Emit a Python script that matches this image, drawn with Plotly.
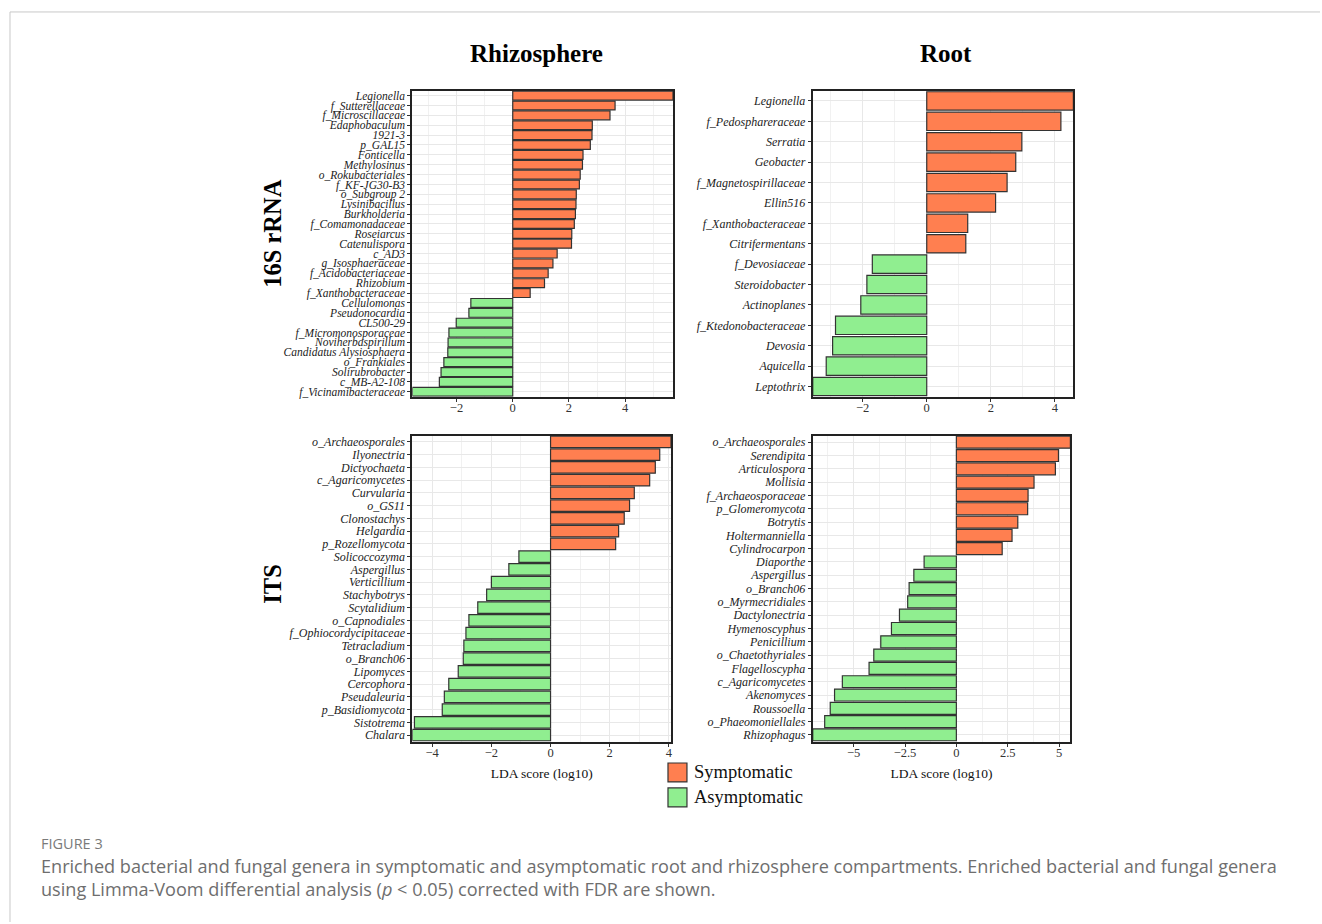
import plotly.graph_objects as go

# ---- LDA scores (log10) per compartment / marker ----
rhizo_16s_taxa = ["Legionella", "f_Sutterellaceae", "f_Microscillaceae", "Edaphobaculum", "1921-3",
                  "p_GAL15", "Fonticella", "Methylosinus", "o_Rokubacteriales", "f_KF-JG30-B3",
                  "o_Subgroup 2", "Lysinibacillus", "Burkholderia", "f_Comamonadaceae", "Roseiarcus",
                  "Catenulispora", "c_AD3", "g_Isosphaeraceae", "f_Acidobacteriaceae", "Rhizobium",
                  "f_Xanthobacteraceae", "Cellulomonas", "Pseudonocardia", "CL500-29",
                  "f_Micromonosporaceae", "Noviherbaspirillum", "Candidatus Alysiosphaera",
                  "o_Frankiales", "Solirubrobacter", "c_MB-A2-108", "f_Vicinamibacteraceae"]
rhizo_16s_lda = [5.70, 3.64, 3.46, 2.83, 2.82, 2.76, 2.50, 2.48, 2.40, 2.37,
                 2.26, 2.25, 2.23, 2.19, 2.10, 2.09, 1.58, 1.43, 1.26, 1.13,
                 0.62, -1.49, -1.56, -2.01, -2.27, -2.30, -2.31, -2.45, -2.55, -2.61, -3.57]

root_16s_taxa = ["Legionella", "f_Pedosphareraceae", "Serratia", "Geobacter", "f_Magnetospirillaceae",
                 "Ellin516", "f_Xanthobacteraceae", "Citrifermentans", "f_Devosiaceae", "Steroidobacter",
                 "Actinoplanes", "f_Ktedonobacteraceae", "Devosia", "Aquicella", "Leptothrix"]
root_16s_lda = [4.58, 4.19, 2.97, 2.78, 2.51, 2.15, 1.28, 1.22,
                -1.70, -1.87, -2.06, -2.85, -2.94, -3.14, -3.56]

rhizo_its_taxa = ["o_Archaeosporales", "Ilyonectria", "Dictyochaeta", "c_Agaricomycetes", "Curvularia",
                  "o_GS11", "Clonostachys", "Helgardia", "p_Rozellomycota", "Solicoccozyma",
                  "Aspergillus", "Verticillium", "Stachybotrys", "Scytalidium", "o_Capnodiales",
                  "f_Ophiocordycipitaceae", "Tetracladium", "o_Branch06", "Lipomyces", "Cercophora",
                  "Pseudaleuria", "p_Basidiomycota", "Sistotrema", "Chalara"]
rhizo_its_lda = [4.07, 3.69, 3.54, 3.35, 2.83, 2.67, 2.49, 2.30, 2.20,
                 -1.07, -1.41, -2.00, -2.16, -2.46, -2.76, -2.86, -2.93, -2.95, -3.12,
                 -3.44, -3.59, -3.66, -4.60, -4.67]

root_its_taxa = ["o_Archaeosporales", "Serendipita", "Articulospora", "Mollisia", "f_Archaeosporaceae",
                 "p_Glomeromycota", "Botrytis", "Holtermanniella", "Cylindrocarpon", "Diaporthe",
                 "Aspergillus", "o_Branch06", "o_Myrmecridiales", "Dactylonectria", "Hymenoscyphus",
                 "Penicillium", "o_Chaetothyriales", "Flagelloscypha", "c_Agaricomycetes", "Akenomyces",
                 "Roussoella", "o_Phaeomoniellales", "Rhizophagus"]
root_its_lda = [5.55, 4.97, 4.82, 3.78, 3.49, 3.47, 2.99, 2.71, 2.23,
                -1.57, -2.07, -2.30, -2.37, -2.77, -3.16, -3.68, -4.02, -4.25, -5.55,
                -5.93, -6.14, -6.41, -6.99]

col_titles = ["Rhizosphere", "Root"]
row_titles = ["16S rRNA", "ITS"]
group_names = ["Symptomatic", "Asymptomatic"]
x_title = "LDA score (log10)"
caption_label = "FIGURE 3"
caption_lines = [
    "Enriched bacterial and fungal genera in symptomatic and asymptomatic root and rhizosphere compartments. Enriched bacterial and fungal genera",
    "using Limma-Voom differential analysis (<i>p</i> < 0.05) corrected with FDR are shown.",
]

# ---- styling / geometry ----
W, H = 1322, 924
SYM_COLOR = "#FF7F50"
ASYM_COLOR = "#90EE90"
EDGE = "#333333"
SERIF = "Liberation Serif, Times New Roman, serif"
SANS = "Open Sans, Noto Sans, sans-serif"

# panel boxes in pixels: (left, right, top, bottom); label_size for the taxon names
panels = [
    dict(taxa=rhizo_16s_taxa, lda=rhizo_16s_lda, box=(413, 674, 90, 397), dtick=2, minor=1,
         xlabel=False, label_size=11.5),
    dict(taxa=root_16s_taxa, lda=root_16s_lda, box=(814, 1075, 90, 397), dtick=2, minor=1,
         xlabel=False, label_size=12),
    dict(taxa=rhizo_its_taxa, lda=rhizo_its_lda, box=(413, 672, 436, 743), dtick=2, minor=1,
         xlabel=True, label_size=12),
    dict(taxa=root_its_taxa, lda=root_its_lda, box=(814, 1072, 436, 743), dtick=2.5, minor=1.25,
         xlabel=True, label_size=12),
]


def px_x(v):
    return v / W


def px_y(v):
    return 1 - v / H


fig = go.Figure()
layout = {}

for k, p in enumerate(panels):
    sfx = "" if k == 0 else str(k + 1)
    xa, ya = "x" + sfx, "y" + sfx
    n = len(p["taxa"])
    idx = list(range(n))
    pos_i = [i for i in idx if p["lda"][i] > 0]
    neg_i = [i for i in idx if p["lda"][i] <= 0]
    for sel, color, name in ((pos_i, SYM_COLOR, group_names[0]), (neg_i, ASYM_COLOR, group_names[1])):
        fig.add_trace(go.Bar(
            x=[p["lda"][i] for i in sel], y=sel, orientation="h", width=0.9,
            marker=dict(color=color, line=dict(color=EDGE, width=1.2)),
            name=name, showlegend=False, xaxis=xa, yaxis=ya,
        ))
    l, r, t, b = p["box"]
    layout["xaxis" + sfx] = dict(
        domain=[px_x(l), px_x(r)], anchor=ya,
        range=[min(p["lda"]), max(p["lda"])],
        dtick=p["dtick"], tick0=0, showgrid=True, gridcolor="#e8e8e8", gridwidth=1,
        minor=dict(dtick=p["minor"], tick0=0, showgrid=True, gridcolor="#f1f1f1", gridwidth=1),
        zeroline=False, showline=True, mirror=True, linecolor="#222222", linewidth=2,
        ticks="outside", ticklen=3, tickcolor="#333333", tickwidth=1, ticklabelstandoff=-5,
        tickfont=dict(family=SERIF, size=12.5, color="#333333"),
        title=dict(text=x_title if p["xlabel"] else "", font=dict(family=SERIF, size=13.5, color="#111111"),
                   standoff=10),
    )
    layout["yaxis" + sfx] = dict(
        domain=[px_y(b), px_y(t)], anchor=xa,
        range=[n - 0.5, -0.5], tickmode="array", tickvals=idx, ticktext=p["taxa"],
        showgrid=True, gridcolor="#e8e8e8", gridwidth=1, zeroline=False,
        showline=True, mirror=True, linecolor="#222222", linewidth=2,
        ticks="outside", ticklen=3, tickcolor="#333333", tickwidth=1,
        tickfont=dict(family=SERIF, size=p["label_size"], color="#222222", style="italic"),
    )

annotations = []
# column headings
for txt, cx in zip(col_titles, (537, 947)):
    annotations.append(dict(text=f"<b>{txt}</b>", x=px_x(cx), y=px_y(55), xref="paper", yref="paper",
                            showarrow=False, font=dict(family=SERIF, size=25, color="#000000"),
                            xanchor="center", yanchor="middle", yshift=2))
# row headings
for txt, cy in zip(row_titles, (233, 585)):
    annotations.append(dict(text=f"<b>{txt}</b>", x=px_x(273), y=px_y(cy), xref="paper", yref="paper",
                            showarrow=False, textangle=-90, font=dict(family=SERIF, size=24.5, color="#000000"),
                            xanchor="center", yanchor="middle"))

# legend keys
shapes = []
for txt, color, cy in zip(group_names, (SYM_COLOR, ASYM_COLOR), (774, 799)):
    shapes.append(dict(type="rect", xref="paper", yref="paper",
                       x0=px_x(669), x1=px_x(688), y0=px_y(cy - 9.5), y1=px_y(cy + 9.5),
                       fillcolor=color, line=dict(color=EDGE, width=1.2)))
    annotations.append(dict(text=txt, x=px_x(693), y=px_y(cy), xref="paper", yref="paper",
                            showarrow=False, xanchor="left", yanchor="middle",
                            font=dict(family=SERIF, size=18.5, color="#111111")))

# card frame
shapes.append(dict(type="line", xref="paper", yref="paper", x0=px_x(10), x1=1, y0=px_y(11), y1=px_y(11),
                   line=dict(color="#c8c8c8", width=1)))
shapes.append(dict(type="line", xref="paper", yref="paper", x0=px_x(10), x1=px_x(10), y0=0, y1=px_y(11),
                   line=dict(color="#c8c8c8", width=1)))

# caption
annotations.append(dict(text=caption_label, x=px_x(39), y=px_y(845), xref="paper", yref="paper",
                        showarrow=False, xanchor="left", yanchor="middle",
                        font=dict(family=SANS, size=14.5, color="#7a7a7a")))
for line, cy in zip(caption_lines, (868, 891)):
    annotations.append(dict(text=line, x=px_x(39), y=px_y(cy), xref="paper", yref="paper",
                            showarrow=False, xanchor="left", yanchor="middle",
                            font=dict(family=SANS, size=18.1, color="#6e6e6e")))

fig.update_layout(
    width=W, height=H, margin=dict(l=0, r=0, t=0, b=0),
    paper_bgcolor="white", plot_bgcolor="white",
    showlegend=False, bargap=0.1,
    annotations=annotations, shapes=shapes,
    **layout,
)

fig.write_html("out.html")
